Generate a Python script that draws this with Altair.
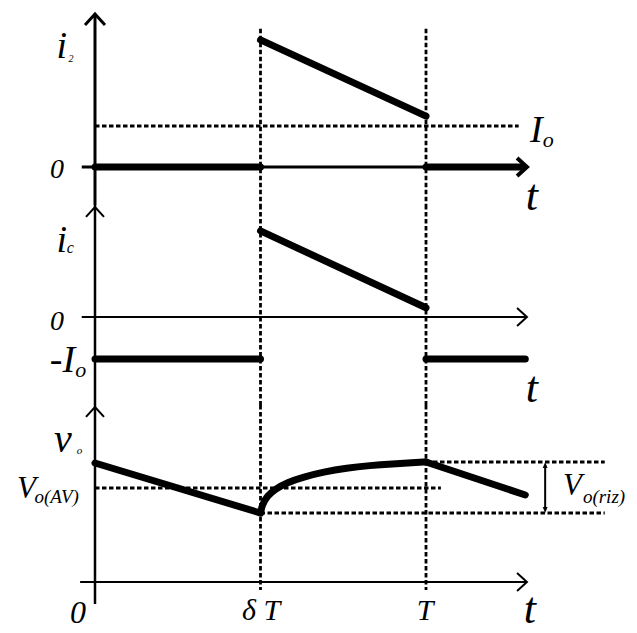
import altair as alt
import pandas as pd

FONT = "Liberation Serif, Times New Roman, Times, serif"

# ---------------- data (time in units of T) ----------------
T_AXIS_START = -0.04
T_AXIS_END = 1.305
T_END = 1.3
T_DELTA = 0.5
T_PERIOD = 1.0

# i2 panel (current in units of Io)
IO = 1.0
I2_T = [0.5, 1.0]
I2_V = [3.1, 1.24]

# ic panel
IC_T = [0.5, 1.0]
IC_V = [2.05, 0.22]

# vo panel
VO_LIN_T = [0.0, 0.5, 1.0, 1.3]
VO_LIN_V = [11.9, 6.9, 12.0, 8.7]
VO_CURVE_T = [0.5, 0.505, 0.52, 0.545, 0.58, 0.63, 0.69, 0.76, 0.83, 0.90, 0.96, 1.0]
VO_CURVE_V = [6.9, 7.7, 8.6, 9.3, 9.95, 10.5, 11.0, 11.4, 11.65, 11.82, 11.93, 12.0]
V_AV = 9.4
V_MAX = 12.0
V_MIN = 6.9

# ---------------- layout ----------------
W = 621
XDOM = [-0.26284, 1.61329]
P1 = dict(h=192, dom=[-0.9268, 3.7561])
P2 = dict(h=200, dom=[-2.0952, 2.6667])
P3 = dict(h=225, dom=[-4.8, 17.7])

UP = "M-1,1.1L0,0L1,1.1"
RIGHT = "M-1.1,-1L0,0L-1.1,1"
TRI_UP = "M0,0L-0.8,2L0.8,2Z"
TRI_DOWN = "M0,0L-0.8,-2L0.8,-2Z"
DASH = [4.5, 2.5]
DW = 2.8


def enc(dom, **kw):
    e = dict(
        x=alt.X("x:Q", scale=alt.Scale(domain=XDOM, nice=False, zero=False), axis=None),
        y=alt.Y("y:Q", scale=alt.Scale(domain=dom, nice=False, zero=False), axis=None),
    )
    e.update(kw)
    return e


def rules(dom, xs, x2s, ys, y2s, **mk):
    df = pd.DataFrame({"x": xs, "x2": x2s, "y": ys, "y2": y2s})
    return alt.Chart(df).mark_rule(color="black", **mk).encode(
        **enc(dom, x2="x2:Q", y2="y2:Q"))


def line(dom, xs, ys, interp="linear", width=7):
    df = pd.DataFrame({"x": xs, "y": ys})
    return alt.Chart(df).mark_line(color="black", strokeWidth=width, strokeCap="round",
                                   strokeJoin="round", interpolate=interp).encode(**enc(dom))


def pt(dom, x, y, shape, size, sw=2.5, filled=False):
    df = pd.DataFrame({"x": [x], "y": [y]})
    mk = dict(shape=shape, size=size, opacity=1, strokeWidth=sw, strokeJoin="miter")
    if filled:
        mk.update(filled=True, color="black")
    else:
        mk.update(filled=False, stroke="black")
    return alt.Chart(df).mark_point(**mk).encode(**enc(dom))


def txt(dom, text, x, y, size, align="center", italic=True):
    df = pd.DataFrame({"x": [x], "y": [y], "t": [text]})
    return alt.Chart(df).mark_text(font=FONT, fontSize=size, align=align, baseline="alphabetic",
                                   fontStyle="italic" if italic else "normal",
                                   color="black").encode(**enc(dom, text="t:N"))


# ---------------- panel 1 : i2 ----------------
d = P1["dom"]
p1 = alt.layer(
    rules(d, [0], [0], [3.73], [d[0]], strokeWidth=3),
    pt(d, 0, 3.73, UP, 400, sw=3),
    rules(d, [T_DELTA, T_PERIOD], [T_DELTA, T_PERIOD], [3.37, 3.37], [d[0], d[0]],
          strokeWidth=DW, strokeDash=DASH),
    rules(d, [0], [1.28], [IO], [IO], strokeWidth=DW, strokeDash=DASH),
    rules(d, [T_AXIS_START], [T_AXIS_END], [0], [0], strokeWidth=3),
    pt(d, T_AXIS_END, 0, RIGHT, 324, sw=4),
    line(d, [0, T_DELTA], [0, 0]),
    line(d, [T_PERIOD, 1.29], [0, 0]),
    line(d, I2_T, I2_V),
    txt(d, "i", -0.100, 2.66, 38),
    txt(d, "2", -0.0725, 2.56, 10),
    txt(d, "0", -0.115, -0.268, 28),
    txt(d, "I", 1.314, 0.61, 38, align="left"),
    txt(d, "o", 1.353, 0.49, 22, align="left"),
    txt(d, "t", 1.320, -1.05, 44),
).properties(width=W, height=P1["h"])

# ---------------- panel 2 : ic ----------------
d = P2["dom"]
p2 = alt.layer(
    rules(d, [0], [0], [d[1]], [d[0]], strokeWidth=2.5),
    pt(d, 0, 2.62, UP, 324, sw=2),
    rules(d, [T_DELTA, T_PERIOD], [T_DELTA, T_PERIOD], [d[1], d[1]], [d[0], d[0]],
          strokeWidth=DW, strokeDash=DASH),
    rules(d, [T_AXIS_START], [T_AXIS_END], [0], [0], strokeWidth=2),
    pt(d, T_AXIS_END, 0, RIGHT, 324, sw=2),
    line(d, [0, T_DELTA], [-IO, -IO]),
    line(d, [T_PERIOD, T_END], [-IO, -IO]),
    line(d, IC_T, IC_V),
    txt(d, "i", -0.100, 1.55, 38),
    txt(d, "c", -0.085, 1.52, 16, align="left"),
    txt(d, "0", -0.115, -0.31, 28),
    txt(d, "-I", -0.060, -1.31, 38, align="right"),
    txt(d, "o", -0.060, -1.43, 22, align="left"),
    txt(d, "t", 1.320, -2.02, 44),
).properties(width=W, height=P2["h"])

# ---------------- panel 3 : vo ----------------
d = P3["dom"]
vo_lin = pd.DataFrame({"x": VO_LIN_T, "y": VO_LIN_V, "seg": [0, 0, 1, 1]})
p3 = alt.layer(
    rules(d, [0], [0], [d[1]], [-2.2], strokeWidth=2.5),
    pt(d, 0, 17.5, UP, 324, sw=2),
    rules(d, [T_DELTA, T_PERIOD], [T_DELTA, T_PERIOD], [d[1], d[1]], [-0.8, -0.8],
          strokeWidth=DW, strokeDash=DASH),
    rules(d, [0, T_PERIOD, T_DELTA], [1.045, 1.54, 1.54], [V_AV, V_MAX, V_MIN], [V_AV, V_MAX, V_MIN],
          strokeWidth=DW, strokeDash=DASH),
    rules(d, [-0.045], [T_AXIS_END], [0], [0], strokeWidth=2),
    pt(d, T_AXIS_END, 0, RIGHT, 324, sw=2),
    alt.Chart(vo_lin).mark_line(color="black", strokeWidth=7, strokeCap="round",
                                strokeJoin="round").encode(**enc(d, detail="seg:N")),
    line(d, VO_CURVE_T, VO_CURVE_V, interp="basis"),
    rules(d, [1.36], [1.36], [V_MAX - 0.4], [V_MIN + 0.4], strokeWidth=2),
    pt(d, 1.36, V_MAX, TRI_UP, 36, sw=0, filled=True),
    pt(d, 1.36, V_MIN, TRI_DOWN, 36, sw=0, filled=True),
    txt(d, "v", -0.097, 13.0, 40),
    txt(d, "o", -0.055, 12.8, 11, align="left"),
    txt(d, "V", -0.236, 8.4, 31, align="left"),
    txt(d, "o(AV)", -0.183, 7.9, 19, align="left"),
    txt(d, "V", 1.414, 8.7, 31, align="left"),
    txt(d, "o(riz)", 1.474, 7.9, 19, align="left"),
    txt(d, "0", -0.051, -4.1, 32),
    txt(d, "δ T", 0.502, -3.8, 30),
    txt(d, "T", 0.997, -3.8, 30),
    txt(d, "t", 1.314, -4.1, 44),
).properties(width=W, height=P3["h"])

chart = alt.vconcat(p1, p2, p3, spacing=0, bounds="flush").properties(
    padding=0, background="white"
).configure_view(stroke=None)

chart.save("out.html", embed_options={"renderer": "svg", "actions": False})
